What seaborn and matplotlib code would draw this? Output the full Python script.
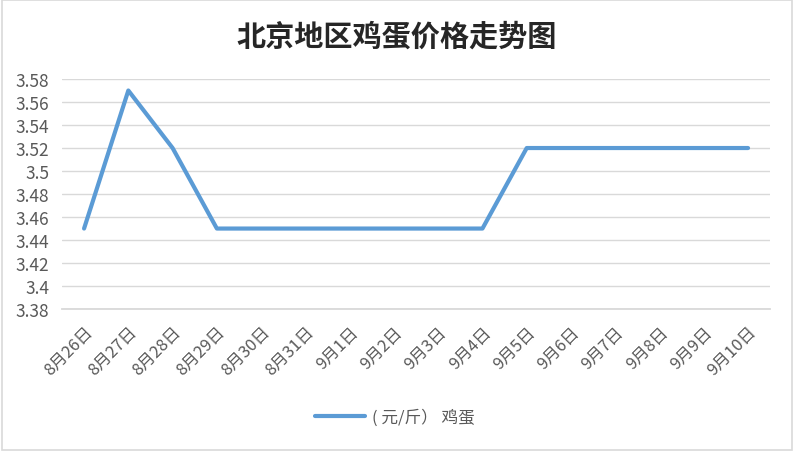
import seaborn as sns
import pandas as pd
import numpy as np
import matplotlib.pyplot as plt
import matplotlib.ticker as ticker
from matplotlib.patches import Rectangle

dates = ['8月26日', '8月27日', '8月28日', '8月29日', '8月30日', '8月31日',
         '9月1日', '9月2日', '9月3日', '9月4日', '9月5日', '9月6日',
         '9月7日', '9月8日', '9月9日', '9月10日']
prices = [3.45, 3.57, 3.52, 3.45, 3.45, 3.45, 3.45, 3.45, 3.45, 3.45,
          3.52, 3.52, 3.52, 3.52, 3.52, 3.52]
y_ticks = [3.38, 3.40, 3.42, 3.44, 3.46, 3.48, 3.50, 3.52, 3.54, 3.56, 3.58]
series_name = '( 元/斤） 鸡蛋'
title = '北京地区鸡蛋价格走势图'

sns.set_theme(style="white")
plt.rcParams['font.family'] = ['Noto Sans CJK SC', 'DejaVu Sans']

df = pd.DataFrame({'date': dates, 'price': prices, 'pos': np.arange(len(dates))})

fig = plt.figure(figsize=(7.94, 4.52), dpi=100)
ax = fig.add_axes([0.078, 0.314, 0.892, 0.509])

sns.lineplot(data=df, x='pos', y='price', ax=ax, color='#5B9BD5',
             linewidth=3.0, label=series_name, solid_capstyle='round')

ax.set_xlim(-0.5, len(dates) - 0.5)
ax.set_ylim(3.38, 3.58)
ax.set_yticks(y_ticks)
ax.yaxis.set_major_formatter(ticker.FuncFormatter(lambda v, p: ('%.2f' % v).rstrip('0').rstrip('.')))
ax.set_xticks(np.arange(len(dates)))
ax.set_xticklabels(dates, rotation=45, ha='right', rotation_mode='anchor')
ax.set_xticks(np.arange(-0.5, len(dates)), minor=True)
ax.tick_params(axis='x', which='major', length=0, pad=10, labelsize=12, labelcolor='#595959')
ax.tick_params(axis='x', which='minor', length=6, width=1.3, color='#D9D9D9', direction='out')
ax.tick_params(axis='y', length=0, pad=9, labelsize=12.5, labelcolor='#595959')
ax.set_xlabel('')
ax.set_ylabel('')

ax.grid(axis='y', color='#D9D9D9', linewidth=1)
for s in ['top', 'right', 'left']:
    ax.spines[s].set_visible(False)
ax.spines['bottom'].set_color('#D9D9D9')
ax.spines['bottom'].set_linewidth(1.3)

fig.text(0.5, 0.918, title, ha='center', va='center', fontsize=21,
         fontweight='bold', color='#262626')

ax.legend(loc='center', bbox_to_anchor=(0.47, -0.47),
          frameon=False, fontsize=12, handlelength=3.0, handletextpad=0.4,
          labelcolor='#595959')

fig.patches.append(Rectangle((0.002, 0.003), 0.996, 0.994, transform=fig.transFigure,
                             fill=False, edgecolor='#D9D9D9', linewidth=1.2))

plt.savefig('out.png', dpi=100)
